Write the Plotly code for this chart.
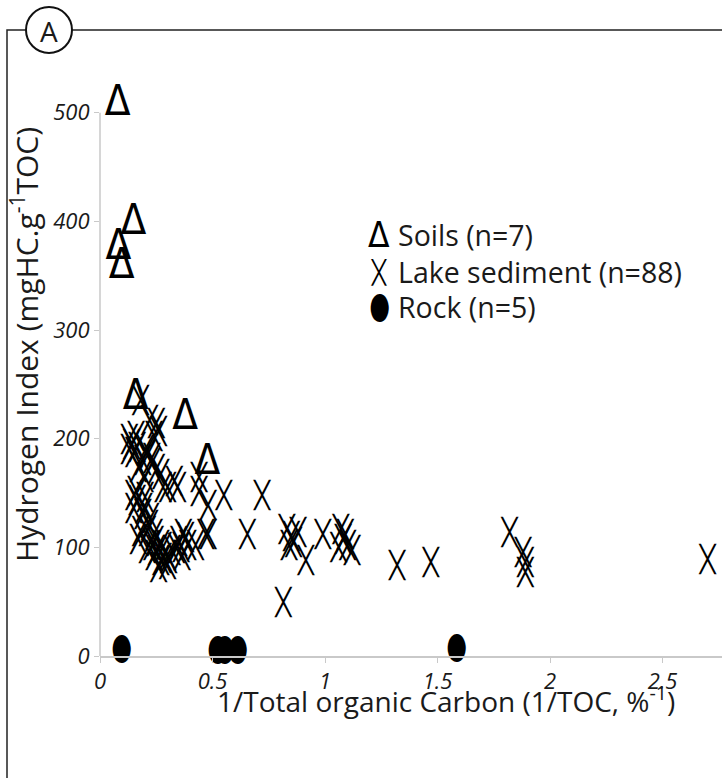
import plotly.graph_objects as go

# ---------------- data ----------------
soil_x = [0.078, 0.149, 0.082, 0.096, 0.158, 0.378, 0.477]
soil_y = [508, 398, 375, 358, 237, 219, 177]

lake_x = [
    0.18, 0.25, 0.26, 0.24, 0.22, 0.13, 0.14, 0.165, 0.20, 0.21,
    0.23, 0.15, 0.19, 0.17, 0.25, 0.27, 0.20, 0.23, 0.13, 0.16,
    0.33, 0.30, 0.345, 0.28, 0.44, 0.44, 0.55, 0.16, 0.20, 0.15,
    0.165, 0.48, 0.15, 0.195, 0.19, 0.225, 0.72,
    0.18, 0.21, 0.17, 0.24, 0.245, 0.27, 0.28, 0.30, 0.305, 0.27,
    0.24, 0.21, 0.30, 0.28, 0.34, 0.35, 0.37, 0.38, 0.39, 0.365,
    0.425, 0.47, 0.48, 0.25, 0.23, 0.32, 0.36, 0.26, 0.22,
    0.655, 0.815, 0.83, 0.85, 0.86, 0.84, 0.88, 0.915, 0.99, 1.07,
    1.08, 1.10, 1.12, 1.09, 1.06,
    1.32, 1.47, 1.82, 1.88, 1.89, 1.89, 2.70,
]
lake_y = [
    233, 212, 205, 200, 215, 197, 193, 190, 187, 183,
    180, 185, 178, 172, 170, 165, 162, 175, 188, 200,
    159, 153, 153, 153, 150, 162, 146, 150, 144, 146,
    141, 137, 134, 134, 128, 125, 146,
    113, 113, 105, 110, 104, 100, 98, 91, 88, 86,
    91, 97, 82, 88, 97, 104, 110, 107, 100, 91,
    100, 110, 110, 95, 100, 95, 98, 80, 118,
    110, 47, 115, 108, 103, 100, 112, 86, 110, 115,
    105, 100, 95, 110, 98,
    81, 84, 112, 93, 84, 75, 87,
]

rock_x = [0.096, 0.52, 0.555, 0.61, 1.584]
rock_y = [4, 3, 3, 3, 5]

series_names = ["Soils (n=7)", "Lake sediment (n=88)", "Rock (n=5)"]
series_glyphs = ["Δ", "╳", "⬮"]

x_tickvals = [0, 0.5, 1, 1.5, 2, 2.5]
x_ticktext = ["0", "0.5", "1", "1.5", "2", "2.5"]
y_tickvals = [0, 100, 200, 300, 400, 500]
y_ticktext = ["0", "100", "200", "300", "400", "500"]
y_axis_top = 500

x_title = "1/Total organic Carbon (1/TOC, %<sup>-1</sup>)"
y_title = "Hydrogen Index (mgHC.g<sup>-1</sup>TOC)"
panel_label = "A"

# ---------------- layout geometry ----------------
W, H = 722, 778
ML, MR, MT, MB = 100, 0, 91, 122
PW, PH = W - ML - MR, H - MT - MB
X_MAX = PW / 225.0
Y_MAX = 520


def px(xp):
    return (xp - ML) / PW


def py(yp):
    return (H - MB - yp) / PH


TEXT = "#1a1a1a"
AXIS = "#c9c9c9"
FONT = "Open Sans, Noto Sans, sans-serif"
TRI_FONT = dict(family="Liberation Sans Narrow, DejaVu Sans Condensed, sans-serif", size=42, color="black")
X_FONT = dict(family="DejaVu Sans Mono, monospace", size=26, color="black")
ELL_FONT = dict(family="DejaVu Sans, Noto Sans, sans-serif", size=34, color="black")
glyph_fonts = [TRI_FONT, X_FONT, ELL_FONT]
legend_glyph_scale = [0.85, 0.9, 1.0]

fig = go.Figure()

fig.add_trace(go.Scatter(
    x=lake_x, y=lake_y, mode="text", text=[series_glyphs[1]] * len(lake_x),
    textposition="middle center", textfont=X_FONT, cliponaxis=False,
    name=series_names[1], showlegend=False, hoverinfo="x+y"))
fig.add_trace(go.Scatter(
    x=soil_x, y=soil_y, mode="text", text=[series_glyphs[0]] * len(soil_x),
    textposition="middle center", textfont=TRI_FONT, cliponaxis=False,
    name=series_names[0], showlegend=False, hoverinfo="x+y"))
fig.add_trace(go.Scatter(
    x=rock_x, y=rock_y, mode="text", text=[series_glyphs[2]] * len(rock_x),
    textposition="middle center", textfont=ELL_FONT, cliponaxis=False,
    name=series_names[2], showlegend=False, hoverinfo="x+y"))

axis_common = dict(
    showgrid=False, zeroline=False,
    ticks="outside", ticklen=5, tickcolor=AXIS, tickwidth=1,
    tickfont=dict(family=FONT, size=22, color=TEXT, style="italic"),
)

fig.update_xaxes(range=[0, X_MAX], tickmode="array", tickvals=x_tickvals, ticktext=x_ticktext,
                 showline=True, linecolor=AXIS, linewidth=1.5, **axis_common)
fig.update_yaxes(range=[0, Y_MAX], tickmode="array", tickvals=y_tickvals, ticktext=y_ticktext,
                 showline=False, **axis_common)

shapes = [
    # y axis line from 0 to the 500 tick only
    dict(type="line", xref="paper", yref="y", x0=0, x1=0, y0=0, y1=y_axis_top,
         line=dict(color=AXIS, width=1.5)),
    # panel frame
    dict(type="path", xref="paper", yref="paper",
         path=f"M {px(7)},{py(H)} L {px(7)},{py(30)} L {px(W)},{py(30)}",
         line=dict(color="#222222", width=1.5)),
    dict(type="circle", xref="paper", yref="paper",
         x0=px(49 - 23), x1=px(49 + 23), y0=py(30 + 23), y1=py(30 - 23),
         fillcolor="white", line=dict(color="#111111", width=2)),
]

annotations = [
    dict(text=panel_label, x=px(49), y=py(31), xref="paper", yref="paper",
         showarrow=False, xanchor="center", yanchor="middle",
         font=dict(family=FONT, size=28, color=TEXT)),
    dict(text=y_title, x=px(25), y=py(345), xref="paper", yref="paper", textangle=-90,
         showarrow=False, xanchor="center", yanchor="middle",
         font=dict(family=FONT, size=30, color=TEXT)),
    dict(text=x_title, x=px(446), y=py(699), xref="paper", yref="paper",
         showarrow=False, xanchor="center", yanchor="middle",
         font=dict(family=FONT, size=28, color=TEXT)),
]

legend_rows_y = [235, 272, 307]
for name, glyph, gfont, sc, ry in zip(series_names, series_glyphs, glyph_fonts,
                                      legend_glyph_scale, legend_rows_y):
    lf = dict(gfont)
    lf["size"] = int(gfont["size"] * sc)
    annotations.append(dict(text=glyph, x=px(379), y=py(ry), xref="paper", yref="paper",
                            showarrow=False, xanchor="center", yanchor="middle", font=lf))
    annotations.append(dict(text=name, x=px(396), y=py(ry), xref="paper", yref="paper",
                            showarrow=False, xanchor="left", yanchor="middle",
                            font=dict(family=FONT, size=28.5, color=TEXT)))

fig.update_layout(
    width=W, height=H,
    margin=dict(l=ML, r=MR, t=MT, b=MB, pad=0),
    paper_bgcolor="white", plot_bgcolor="white",
    showlegend=False,
    shapes=shapes, annotations=annotations,
)

fig.write_html("out.html", config={"displayModeBar": False},
               post_script="document.body.style.margin='0';")
